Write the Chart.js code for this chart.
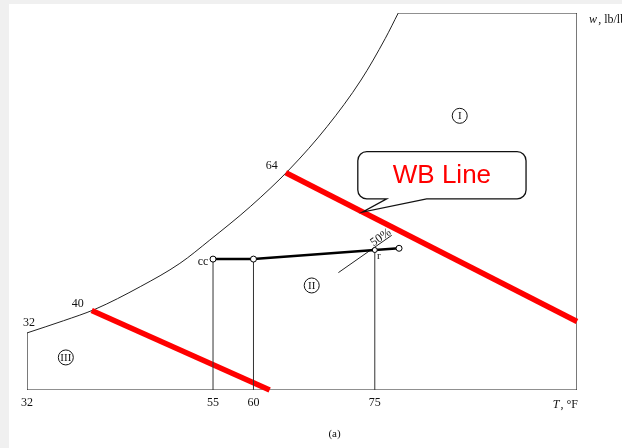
<!DOCTYPE html>
<html>
<head>
<meta charset="utf-8">
<title>Psychrometric chart</title>
<script src="https://cdn.jsdelivr.net/npm/chart.js@4.4.1/dist/chart.umd.min.js"></script>
<style>
    html, body { margin: 0; padding: 0; background: #f0f0f0; }
    #wrap { position: relative; width: 622px; height: 448px; overflow: hidden; }
    #paper { position: absolute; left: 9px; top: 4px; right: 0; bottom: 0; background: #fff; }
    #psychChart { position: absolute; left: 0; top: 0; }
</style>
</head>
<body>
<div id="wrap">
    <div id="paper"></div>
    <canvas id="psychChart" width="622" height="448"></canvas>
</div>
<script>
        // saturation curve: dry bulb °F / humidity ratio lb/lb
        const satTemps = [32, 36.5, 40.4, 46.0, 50.9, 54.6, 59.6, 64.5, 69.1, 73.3, 76.3, 77.9];
        const satW = [0.00333, 0.00404, 0.00471, 0.00603, 0.00739, 0.00875,
                      0.01070, 0.01290, 0.01537, 0.01809, 0.02052, 0.02200];

        // wet bulb lines
        const wbLabels = ['40', '64'];
        const wbStartTemps = [40, 64];
        const wbEndTemps = [62, 100];
        const wbEndW = [0, 0.0040];

        // cooling coil -> reheat -> room
        const processNames = ['cc', '', 'r', ''];
        const processTemps = [55, 60, 75, 78];
        const processW = [0.00764, 0.00764, 0.00817, 0.00827];

        // 50% RH segment through r
        const rh50Temps = [70.5, 77.1];
        const rh50W = [0.00685, 0.00903];

        const regionNames = ['I', 'II', 'III'];
        const regionTemps = [85.5, 67.2, 36.8];
        const regionW = [0.0160, 0.0061, 0.0019];

        const tickTemps = [32, 55, 60, 75];
        const T_MIN = 32;
        const T_MAX = 100;
        const W_MAX = 0.022;

        const SERIF = '"Liberation Serif", "Times New Roman", serif';

        function satAt(t) {
            for (let i = 1; i < satTemps.length; i++) {
                if (t <= satTemps[i]) {
                    const f = (t - satTemps[i - 1]) / (satTemps[i] - satTemps[i - 1]);
                    return satW[i - 1] + f * (satW[i] - satW[i - 1]);
                }
            }
            return satW[satW.length - 1];
        }

        const toPoints = (xs, ys) => xs.map((x, i) => ({ x: x, y: ys[i] }));

        function line(data, color, width, extra) {
            return Object.assign({
                data: data,
                showLine: true,
                borderColor: color,
                borderWidth: width,
                pointRadius: 0,
                fill: false,
                tension: 0
            }, extra || {});
        }

        const datasets = [];

        // first dataset ends up on top
        datasets.push(line(toPoints(processTemps, processW), '#000', 2.5, {
            pointRadius: [3, 3, 2.5, 3],
            pointBackgroundColor: '#fff',
            pointBorderColor: '#000',
            pointBorderWidth: 1
        }));

        processTemps.slice(0, 3).forEach((t, i) => {
            datasets.push(line([{ x: t, y: 0 }, { x: t, y: processW[i] }], '#333', 1));
        });

        datasets.push(line(toPoints(rh50Temps, rh50W), '#222', 1));

        wbStartTemps.forEach((t, i) => {
            datasets.push(line([{ x: t, y: satAt(t) }, { x: wbEndTemps[i], y: wbEndW[i] }], '#ff0000', 5.5, {
                clip: false,
                borderCapStyle: 'butt'
            }));
        });

        datasets.push(line(toPoints(satTemps, satW), '#222', 1, { cubicInterpolationMode: 'monotone' }));

        // chart outline: top, right, bottom and left edges
        datasets.push(line([
            { x: satTemps[satTemps.length - 1], y: W_MAX },
            { x: T_MAX, y: W_MAX },
            { x: T_MAX, y: 0 },
            { x: T_MIN, y: 0 },
            { x: T_MIN, y: satW[0] }
        ], '#222', 1.2));

        function drawCallout(ctx, x0, y0, x1, y1, r, tip, b0, b1) {
            ctx.beginPath();
            ctx.moveTo(x0 + r, y0);
            ctx.lineTo(x1 - r, y0);
            ctx.arcTo(x1, y0, x1, y0 + r, r);
            ctx.lineTo(x1, y1 - r);
            ctx.arcTo(x1, y1, x1 - r, y1, r);
            ctx.lineTo(b1, y1);
            ctx.lineTo(tip.x, tip.y);
            ctx.lineTo(b0, y1);
            ctx.lineTo(x0 + r, y1);
            ctx.arcTo(x0, y1, x0, y1 - r, r);
            ctx.lineTo(x0, y0 + r);
            ctx.arcTo(x0, y0, x0 + r, y0, r);
            ctx.closePath();
            ctx.fillStyle = '#fff';
            ctx.fill();
            ctx.strokeStyle = '#111';
            ctx.lineWidth = 1.3;
            ctx.stroke();
        }

        const labelPlugin = {
            id: 'psychLabels',
            afterDatasetsDraw(chart) {
                const ctx = chart.ctx;
                const xs = chart.scales.x;
                const ys = chart.scales.y;
                const px = t => xs.getPixelForValue(t);
                const py = w => ys.getPixelForValue(w);

                ctx.save();
                ctx.fillStyle = '#111';
                ctx.textAlign = 'center';
                ctx.textBaseline = 'middle';
                ctx.font = '12px ' + SERIF;

                // wet bulb temperatures on the saturation curve
                wbStartTemps.forEach((t, i) => {
                    ctx.fillText(wbLabels[i], px(t) - 14, py(satAt(t)) - 7);
                });
                ctx.fillText('32', px(T_MIN) + 2, py(satW[0]) - 10);

                // state points
                ctx.fillText(processNames[0], px(processTemps[0]) - 10, py(processW[0]) + 3);
                ctx.font = '11px ' + SERIF;
                ctx.fillText(processNames[2], px(processTemps[2]) + 4, py(processW[2]) + 6);

                ctx.save();
                ctx.translate(px(processTemps[2]) + 6, py(processW[2]) - 12.5);
                ctx.rotate(-35 * Math.PI / 180);
                ctx.font = '12px ' + SERIF;
                ctx.fillText('50%', 0, 0);
                ctx.restore();

                // region markers
                ctx.lineWidth = 1;
                ctx.strokeStyle = '#111';
                regionNames.forEach((name, i) => {
                    const cx = px(regionTemps[i]);
                    const cy = py(regionW[i]);
                    ctx.beginPath();
                    ctx.arc(cx, cy, 7.5, 0, Math.PI * 2);
                    ctx.stroke();
                    ctx.fillText(name, cx, cy + 0.5);
                });

                // axis captions
                ctx.textAlign = 'left';
                ctx.font = 'italic 12px ' + SERIF;
                ctx.fillText('w', 589, 20);
                ctx.font = '12px ' + SERIF;
                ctx.fillText(', lb/lb', 589 + ctx.measureText('w').width + 0.5, 20);

                ctx.textAlign = 'right';
                ctx.font = '12px ' + SERIF;
                const unit = ', °F';
                ctx.fillText(unit, xs.right + 1, 405);
                ctx.font = 'italic 12px ' + SERIF;
                ctx.fillText('T', xs.right + 1 - ctx.measureText(unit).width - 0.5, 405);

                ctx.textAlign = 'center';
                ctx.font = '11px ' + SERIF;
                ctx.fillText('(a)', 334.5, 434);

                // callout pointing at the upper wet bulb line
                const tipT = 73.5;
                const f = (tipT - wbStartTemps[1]) / (wbEndTemps[1] - wbStartTemps[1]);
                const tipW = satAt(wbStartTemps[1]) + f * (wbEndW[1] - satAt(wbStartTemps[1]));
                const tip = { x: px(tipT), y: py(tipW) };
                const x0 = px(72.9), x1 = px(93.7);
                const y0 = py(0.01391), y1 = py(0.01115);
                drawCallout(ctx, x0, y0, x1, y1, 9, tip, tip.x + 24, tip.x + 64);

                ctx.fillStyle = '#ff0000';
                ctx.font = '26px "Liberation Sans", Arial, sans-serif';
                ctx.fillText('WB Line', (x0 + x1) / 2, (y0 + y1) / 2 + 1);
                ctx.restore();
            }
        };

        const ctx = document.getElementById('psychChart').getContext('2d');
        const psychChart = new Chart(ctx, {
            type: 'scatter',
            data: { datasets: datasets },
            options: {
                responsive: false,
                animation: false,
                events: [],
                layout: { padding: { left: 27, right: 45, top: 13, bottom: 0 } },
                plugins: {
                    legend: { display: false },
                    tooltip: { enabled: false }
                },
                scales: {
                    x: {
                        type: 'linear',
                        min: T_MIN,
                        max: T_MAX,
                        grid: { display: false, drawTicks: false },
                        border: { display: false },
                        afterBuildTicks: scale => {
                            scale.ticks = tickTemps.map(v => ({ value: v }));
                        },
                        afterFit: scale => {
                            scale.height = 58;
                        },
                        ticks: {
                            autoSkip: false,
                            maxRotation: 0,
                            padding: 6,
                            color: '#111',
                            font: { family: SERIF, size: 12 },
                            callback: v => String(v)
                        }
                    },
                    y: {
                        type: 'linear',
                        min: 0,
                        max: W_MAX,
                        display: false
                    }
                }
            },
            plugins: [labelPlugin]
        });
</script>
</body>
</html>
